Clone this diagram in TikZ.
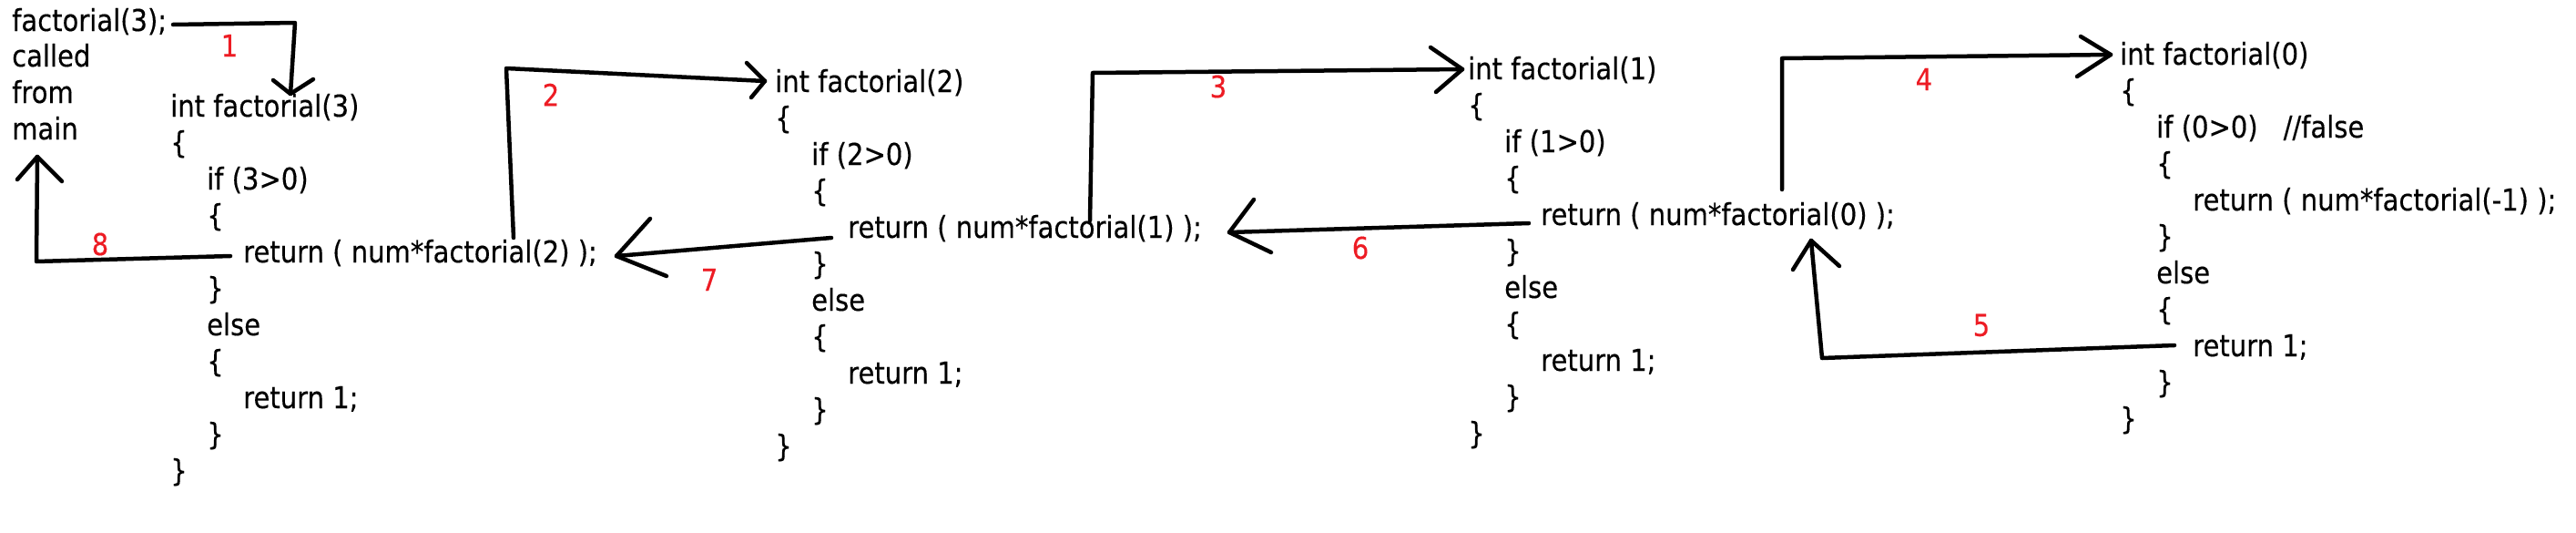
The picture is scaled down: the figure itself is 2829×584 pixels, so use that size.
\documentclass[tikz,border=0pt]{standalone}
\usepackage{fontspec}
\setmainfont{DejaVu Sans}[FakeStretch=0.88,FakeBold=0.3]
\definecolor{pred}{RGB}{237,28,36}
\newcommand\codeblock[6]{%
  \node[code] (#1h) at (#2,#3) {int factorial(#4)};
  \node[code] (#1o1) at (#2,#3+40) {\{};
  \node[code] (#1if) at (#2+40,#3+80) {if (#4>0)#6};
  \node[code] (#1o2) at (#2+40,#3+120) {\{};
  \node[code] (#1ret) at (#2+80,#3+160) {return ( num*factorial(#5) );};
  \node[code] (#1c2) at (#2+40,#3+200) {\}};
  \node[code] (#1else) at (#2+40,#3+240) {else};
  \node[code] (#1o3) at (#2+40,#3+280) {\{};
  \node[code] (#1one) at (#2+80,#3+320) {return 1;};
  \node[code] (#1c3) at (#2+40,#3+360) {\}};
  \node[code] (#1c1) at (#2,#3+400) {\}};
}
\begin{document}
\begin{tikzpicture}[x=1pt,y=-1pt,
  code/.style={anchor=base west, inner sep=0pt, font=\fontsize{33}{40}\selectfont},
  lbl/.style={inner sep=0pt, text=pred, font=\fontsize{33}{40}\selectfont},
  wire/.style={line width=4.5pt, line cap=round, line join=round}]
\useasboundingbox (0,0) rectangle (2829,584);

% caller text
\node[code] (m1) at (13,34) {factorial(3);};
\node[code] (m2) at (13,73) {called};
\node[code] (m3) at (13,113) {from};
\node[code] (m4) at (13,153) {main};

% code blocks
\codeblock{A}{187}{128}{3}{2}{}
\codeblock{B}{851}{101}{2}{1}{}
\codeblock{C}{1612}{87}{1}{0}{}
\codeblock{D}{2328}{71}{0}{-1}{\hspace{28pt}//false}

% arrow 1
\coordinate (a1s) at (190,27);
\coordinate (a1c) at (324,25);
\coordinate (a1t) at (319,103);
\coordinate (a1l) at (300,88);
\coordinate (a1r) at (344,87);
\draw[wire] (a1s) -- (a1c) -- (a1t);
\draw[wire] (a1l) -- (a1t) -- (a1r);
\node[lbl] (n1) at (252,50) {1};

% arrow 2
\coordinate (a2s) at (564,261);
\coordinate (a2c) at (556,75);
\coordinate (a2t) at (840,89);
\coordinate (a2l) at (820,69);
\coordinate (a2r) at (825,107);
\draw[wire] (a2s) -- (a2c) -- (a2t);
\draw[wire] (a2l) -- (a2t) -- (a2r);
\node[lbl] (n2) at (605,104) {2};

% arrow 3
\coordinate (a3s) at (1197,242);
\coordinate (a3c) at (1200,80);
\coordinate (a3t) at (1606,76);
\coordinate (a3l) at (1571,52);
\coordinate (a3r) at (1577,101);
\draw[wire] (a3s) -- (a3c) -- (a3t);
\draw[wire] (a3l) -- (a3t) -- (a3r);
\node[lbl] (n3) at (1338,95) {3};

% arrow 4
\coordinate (a4s) at (1957,208);
\coordinate (a4c) at (1957,64);
\coordinate (a4t) at (2318,60);
\coordinate (a4l) at (2285,40);
\coordinate (a4r) at (2281,84);
\draw[wire] (a4s) -- (a4c) -- (a4t);
\draw[wire] (a4l) -- (a4t) -- (a4r);
\node[lbl] (n4) at (2113,87) {4};

% arrow 5
\coordinate (a5s) at (2388,379);
\coordinate (a5c) at (2001,393);
\coordinate (a5t) at (1989,264);
\coordinate (a5l) at (1969,296);
\coordinate (a5r) at (2020,292);
\draw[wire] (a5s) -- (a5c) -- (a5t);
\draw[wire] (a5l) -- (a5t) -- (a5r);
\node[lbl] (n5) at (2176,357) {5};

% arrow 6
\coordinate (a6s) at (1679,245);
\coordinate (a6t) at (1350,255);
\coordinate (a6l) at (1377,219);
\coordinate (a6r) at (1396,277);
\draw[wire] (a6s) -- (a6t);
\draw[wire] (a6l) -- (a6t) -- (a6r);
\node[lbl] (n6) at (1494,272) {6};

% arrow 7
\coordinate (a7s) at (913,261);
\coordinate (a7t) at (677,281);
\coordinate (a7l) at (714,240);
\coordinate (a7r) at (732,303);
\draw[wire] (a7s) -- (a7t);
\draw[wire] (a7l) -- (a7t) -- (a7r);
\node[lbl] (n7) at (779,307) {7};

% arrow 8
\coordinate (a8s) at (253,281);
\coordinate (a8c) at (40,287);
\coordinate (a8t) at (41,172);
\coordinate (a8l) at (19,197);
\coordinate (a8r) at (68,199);
\draw[wire] (a8s) -- (a8c) -- (a8t);
\draw[wire] (a8l) -- (a8t) -- (a8r);
\node[lbl] (n8) at (110,268) {8};
\end{tikzpicture}
\end{document}
